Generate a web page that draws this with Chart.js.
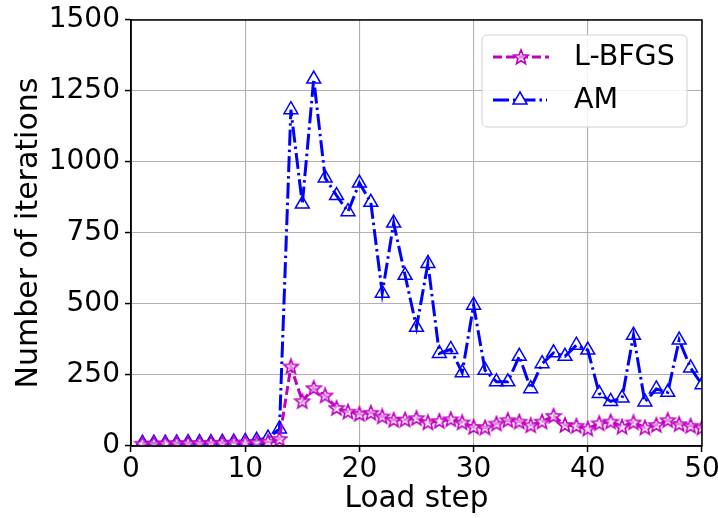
<!DOCTYPE html>
<html>
<head>
<meta charset="utf-8">
<script src="https://cdn.jsdelivr.net/npm/chart.js@4.4.0/dist/chart.umd.min.js"></script>
<style>
  html, body { margin: 0; padding: 0; background: #fff; }
  canvas { display: block; }
</style>
</head>
<body>
<canvas id="chart" width="718" height="518"></canvas>
<script>
// load steps 1..50
var steps = [];
for (var i = 1; i <= 50; i++) steps.push(i);

var lbfgs = [8, 9, 9, 10, 10, 10, 11, 11, 12, 12,
             13, 15, 25, 280, 158, 204, 178, 134, 121, 113,
             117, 104, 92, 93, 98, 83, 88, 94, 83, 67,
             65, 79, 91, 86, 73, 86, 106, 74, 71, 61,
             80, 86, 68, 83, 65, 74, 91, 77, 71, 65];

var am = [10, 10, 10, 11, 12, 12, 12, 13, 14, 16,
          20, 28, 60, 1184, 852, 1292, 944, 882, 825, 926,
          858, 538, 785, 601, 418, 643, 326, 340, 258, 496,
          267, 226, 226, 316, 202, 290, 328, 316, 355, 338,
          185, 157, 169, 390, 155, 201, 189, 373, 275, 216];

var xTicks = [0, 10, 20, 30, 40, 50];
var yTicks = [0, 250, 500, 750, 1000, 1250, 1500];

var MAGENTA = '#bf00bf';
var BLUE = '#0000ff';
var FONT = 'DejaVu Sans';

function pts(vals) {
    return vals.map(function (v, i) { return {x: steps[i], y: v}; });
}

// 5 point star marker (Chart.js has no such pointStyle)
function starPath(ctx, cx, cy, ro, ri) {
    ctx.beginPath();
    for (var k = 0; k < 10; k++) {
        var r = k % 2 === 0 ? ro : ri;
        var a = -Math.PI / 2 + k * Math.PI / 5;
        var px = cx + r * Math.cos(a), py = cy + r * Math.sin(a);
        if (k === 0) ctx.moveTo(px, py); else ctx.lineTo(px, py);
    }
    ctx.closePath();
}
var star = document.createElement('canvas');
star.width = 18; star.height = 18;
(function () {
    var c = star.getContext('2d');
    starPath(c, 9, 9.5, 7.6, 3.3);
    c.fillStyle = 'rgba(255,220,255,0.6)';
    c.fill();
    c.strokeStyle = MAGENTA;
    c.lineWidth = 1.6;
    c.stroke();
})();

var framePlugin = {
    id: 'frame',
    afterDraw: function (chart) {
        var ctx = chart.ctx, a = chart.chartArea;
        ctx.save();
        ctx.strokeStyle = '#000';
        ctx.lineWidth = 1.5;
        ctx.strokeRect(a.left, a.top, a.right - a.left, a.bottom - a.top);

        // legend box
        var bx = 482, by = 35, bw = 205, bh = 92;
        ctx.beginPath();
        ctx.roundRect(bx, by, bw, bh, 5);
        ctx.fillStyle = 'rgba(255,255,255,0.85)';
        ctx.fill();
        ctx.strokeStyle = '#d0d0d0';
        ctx.lineWidth = 1;
        ctx.stroke();

        ctx.lineWidth = 3;
        ctx.strokeStyle = MAGENTA;
        ctx.setLineDash([9, 4]);
        ctx.beginPath(); ctx.moveTo(493, 57); ctx.lineTo(549, 57); ctx.stroke();
        ctx.setLineDash([]);
        ctx.drawImage(star, 521 - 9, 57 - 9);

        ctx.strokeStyle = BLUE;
        ctx.setLineDash([16, 4, 2.5, 4]);
        ctx.beginPath(); ctx.moveTo(493, 100); ctx.lineTo(547, 100); ctx.stroke();
        ctx.setLineDash([]);
        ctx.lineWidth = 1.5;
        ctx.fillStyle = '#fff';
        ctx.beginPath();
        ctx.moveTo(520, 92); ctx.lineTo(527, 104); ctx.lineTo(513, 104); ctx.closePath();
        ctx.fill(); ctx.stroke();

        ctx.fillStyle = '#000';
        ctx.font = '28.5px "' + FONT + '"';
        ctx.textBaseline = 'middle';
        ctx.fillText('L-BFGS', 574, 58);
        ctx.fillText('AM', 574, 101);
        ctx.restore();
    }
};

new Chart(document.getElementById('chart'), {
    type: 'line',
    data: {
        datasets: [{
            label: 'L-BFGS',
            data: pts(lbfgs),
            borderColor: MAGENTA,
            borderWidth: 3,
            borderDash: [9, 4],
            pointStyle: star,
            pointRadius: 8,
            fill: false,
            tension: 0
        }, {
            label: 'AM',
            data: pts(am),
            borderColor: BLUE,
            borderWidth: 3,
            borderDash: [16, 4, 2.5, 4],
            pointStyle: 'triangle',
            pointRadius: 8,
            pointBorderWidth: 1.5,
            pointBorderColor: BLUE,
            pointBackgroundColor: 'rgba(255,255,255,0)',
            fill: false,
            tension: 0
        }]
    },
    options: {
        responsive: false,
        animation: false,
        devicePixelRatio: 1,
        layout: {padding: {top: 20, right: 16, left: 0, bottom: 0}},
        plugins: {legend: {display: false}, tooltip: {enabled: false}},
        scales: {
            x: {
                type: 'linear', min: 0, max: 50,
                afterBuildTicks: function (s) { s.ticks = xTicks.map(function (v) { return {value: v}; }); },
                afterFit: function (s) { s.height = 72; s.paddingLeft = 0; s.paddingRight = 0; },
                ticks: {color: '#000', font: {family: FONT, size: 28}, padding: 1, maxRotation: 0,
                        callback: function (v) { return String(v); }},
                grid: {color: '#b0b0b0', lineWidth: 1.1, tickLength: 6, tickColor: '#000', tickWidth: 1.5},
                border: {display: true, color: '#000', width: 1.5},
                title: {display: true, text: 'Load step', color: '#000',
                        font: {family: FONT, size: 29.5}, padding: {top: 0, bottom: 1}}
            },
            y: {
                min: 0, max: 1500,
                afterBuildTicks: function (s) { s.ticks = yTicks.map(function (v) { return {value: v}; }); },
                afterFit: function (s) { s.width = 131; s.paddingTop = 0; s.paddingBottom = 0; },
                ticks: {color: '#000', font: {family: FONT, size: 28}, padding: 5,
                        callback: function (v) { return String(v); }},
                grid: {color: '#b0b0b0', lineWidth: 1.1, tickLength: 6, tickColor: '#000', tickWidth: 1.5},
                border: {display: true, color: '#000', width: 1.5},
                title: {display: true, text: 'Number of iterations', color: '#000',
                        font: {family: FONT, size: 30}, padding: {top: 11, bottom: 0}}
            }
        }
    },
    plugins: [framePlugin]
});
</script>
</body>
</html>
